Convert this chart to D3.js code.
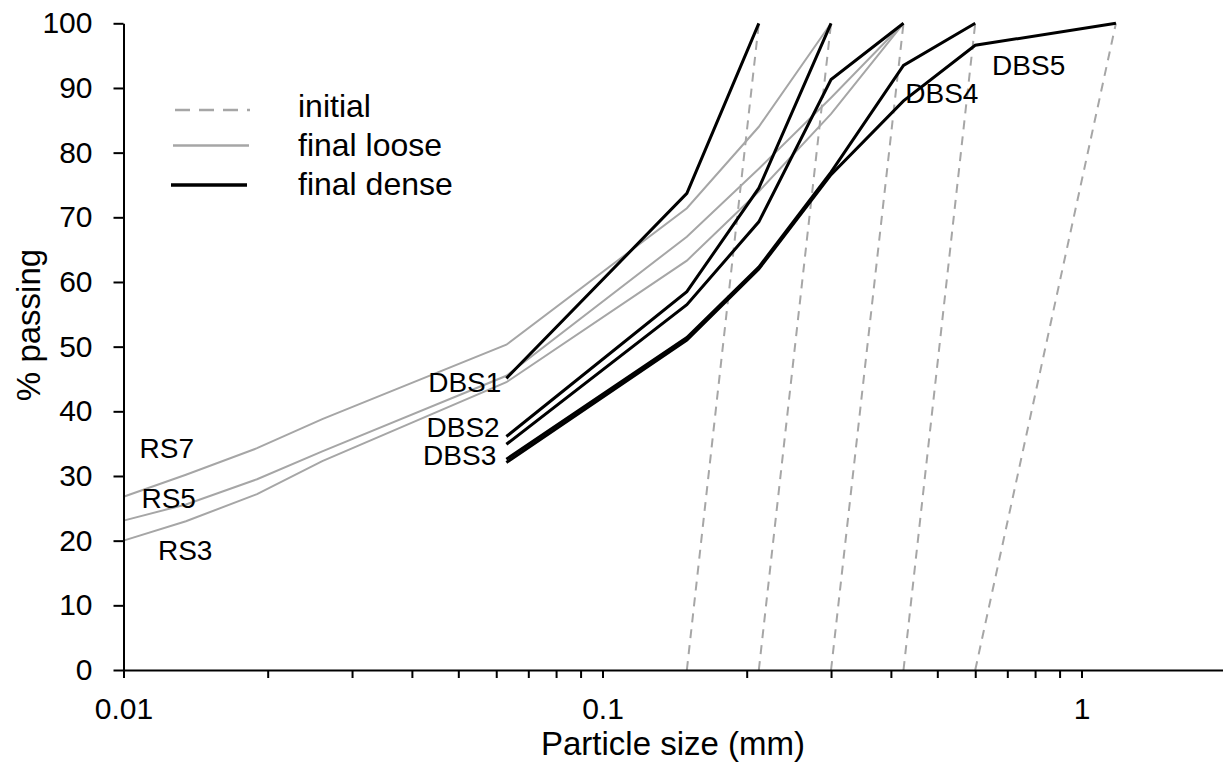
<!DOCTYPE html>
<html>
<head>
<meta charset="utf-8">
<script src="https://cdn.jsdelivr.net/npm/d3@7"></script>
<style>
  body { margin: 0; background: #fff; }
  text { font-family: Arial, "Liberation Sans", sans-serif; fill: #000; }
</style>
</head>
<body>
<div id="chart"></div>
<script>
// initial gradings: straight lines from 0 % passing (d0) to 100 % passing (d100)
var initialD0 = [0.15, 0.212, 0.3, 0.425, 0.6];
var initialD100 = [0.212, 0.3, 0.425, 0.6, 1.18];

// final loose (grey)
var looseSizes = [0.01, 0.0135, 0.019, 0.026, 0.063, 0.15, 0.212, 0.3, 0.425];
var rs3 = [20.0, 23.0, 27.2, 32.3, 44.5, 63.3, 74.0, 86.0, 100];
var rs5 = [23.1, 25.6, 29.5, 33.8, 45.5, 67.0, 77.5, 88.5, 100];
var rs7 = [26.8, 30.2, 34.3, 38.8, 50.3, 71.4, 84.0, 100];

// final dense (black)
var denseSizes = [0.063, 0.15, 0.212, 0.3, 0.425, 0.6, 1.18];
var dbs1 = [45.1, 73.7, 100];
var dbs2 = [36.1, 58.5, 74.5, 100];
var dbs3 = [34.9, 56.5, 69.3, 91.3, 100];
var dbs4 = [32.6, 51.4, 62.3, 77.0, 93.5, 100];
var dbs5 = [32.1, 51.0, 62.0, 76.6, 88.0, 96.6, 100];

var yTicks = [0, 10, 20, 30, 40, 50, 60, 70, 80, 90, 100];
var xTickLabels = [0.01, 0.1, 1];

// curve labels, anchored in data units
var labelNames = ["RS7", "RS5", "RS3", "DBS1", "DBS2", "DBS3", "DBS4", "DBS5"];
var labelX = [0.0108, 0.0109, 0.0118, 0.0615, 0.061, 0.060, 0.4286, 0.6506];
var labelY = [32.8, 25.0, 17.0, 43.0, 36.0, 31.7, 87.7, 92.0];

(function () {
    var width = 1223,
        height = 767;

    var svg = d3.select("#chart")
        .append("svg")
        .attr("width", width)
        .attr("height", height);

    var x = d3.scaleLog().domain([0.01, 2]).range([123.5, 1225.7]);
    var y = d3.scaleLinear().domain([0, 100]).range([670, 23.3]);

    var line = d3.line()
        .x(function (d) { return x(d[0]); })
        .y(function (d) { return y(d[1]); });

    function pairs(sizes, vals) {
        return vals.map(function (v, i) { return [sizes[i], v]; });
    }

    // initial
    svg.selectAll(".initial")
        .data(initialD0)
        .enter().append("path")
        .attr("class", "initial")
        .attr("d", function (d, i) { return line([[d, 0], [initialD100[i], 100]]); })
        .attr("fill", "none")
        .attr("stroke", "#a6a6a6")
        .attr("stroke-width", 2)
        .attr("stroke-dasharray", "9,7");

    // final loose
    svg.selectAll(".loose")
        .data([rs3, rs5, rs7])
        .enter().append("path")
        .attr("class", "loose")
        .attr("d", function (d) { return line(pairs(looseSizes, d)); })
        .attr("fill", "none")
        .attr("stroke", "#a6a6a6")
        .attr("stroke-width", 2);

    // final dense
    svg.selectAll(".dense")
        .data([dbs1, dbs2, dbs3, dbs4, dbs5])
        .enter().append("path")
        .attr("class", "dense")
        .attr("d", function (d) { return line(pairs(denseSizes, d)); })
        .attr("fill", "none")
        .attr("stroke", "#000")
        .attr("stroke-width", 3)
        .attr("stroke-linejoin", "miter");

    // axes
    var xTicks = x.ticks().filter(function (t) { return t <= 1; });

    var xAxis = svg.append("g")
        .attr("transform", "translate(0," + y(0) + ")")
        .call(d3.axisBottom(x)
            .tickValues(xTicks)
            .tickSize(8)
            .tickSizeOuter(0)
            .tickPadding(20)
            .tickFormat(function (d) {
                return xTickLabels.some(function (t) { return Math.abs(t - d) < 1e-9; }) ? String(d) : "";
            }));

    var yAxis = svg.append("g")
        .attr("transform", "translate(" + x(0.01) + ",0)")
        .call(d3.axisLeft(y)
            .tickValues(yTicks)
            .tickSize(10)
            .tickSizeOuter(0)
            .tickPadding(21));

    [xAxis, yAxis].forEach(function (g) {
        g.selectAll(".domain, .tick line").attr("stroke", "#000").attr("stroke-width", 2);
        g.selectAll("text").attr("font-size", "30px").attr("fill", "#000")
            .attr("font-family", "Arial, 'Liberation Sans', sans-serif");
    });

    // axis titles
    svg.append("text")
        .attr("x", 673)
        .attr("y", 755)
        .attr("text-anchor", "middle")
        .attr("font-size", "33px")
        .text("Particle size (mm)");

    svg.append("text")
        .attr("transform", "translate(28,325) rotate(-90)")
        .attr("text-anchor", "middle")
        .attr("dy", "0.35em")
        .attr("font-size", "33px")
        .text("% passing");

    // curve labels
    svg.selectAll(".lbl")
        .data(labelNames)
        .enter().append("text")
        .attr("class", "lbl")
        .attr("x", function (d, i) { return x(labelX[i]); })
        .attr("y", function (d, i) { return y(labelY[i]); })
        .attr("text-anchor", function (d) { return /DBS[123]/.test(d) ? "end" : "start"; })
        .attr("font-size", "28px")
        .text(function (d) { return d; });

    // legend
    var legend = svg.append("g");
    var legendItems = [
        { name: "initial", color: "#a6a6a6", w: 2.5, dash: "15,9", y: 110, x1: 175, x2: 250 },
        { name: "final loose", color: "#a6a6a6", w: 2.5, dash: null, y: 145.5, x1: 173, x2: 249 },
        { name: "final dense", color: "#000", w: 3.5, dash: null, y: 185, x1: 171, x2: 247 }
    ];
    legendItems.forEach(function (it, i) {
        legend.append("line")
            .attr("x1", it.x1).attr("x2", it.x2)
            .attr("y1", it.y).attr("y2", it.y)
            .attr("stroke", it.color)
            .attr("stroke-width", it.w)
            .attr("stroke-dasharray", it.dash);
        legend.append("text")
            .attr("x", 298)
            .attr("y", 117 + i * 39)
            .attr("font-size", "32px")
            .text(it.name);
    });
})();
</script>
</body>
</html>
